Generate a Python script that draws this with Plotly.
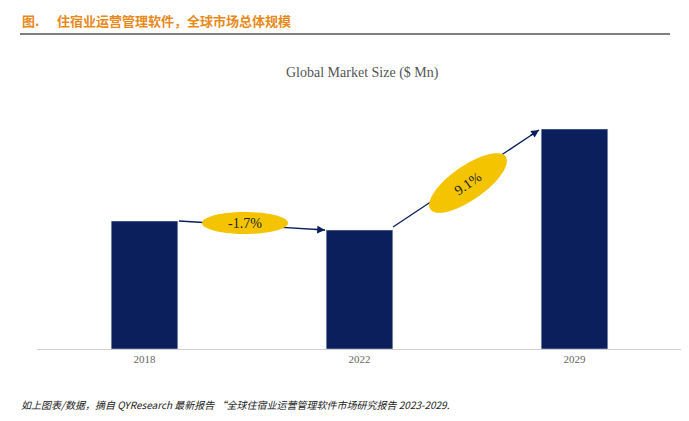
import plotly.graph_objects as go
import numpy as np

years = ["2018", "2022", "2029"]
values = [128, 119, 220]
cagr_labels = ["-1.7%", "9.1%"]

OFF = 8  # page body margin
W, H = 689, 421
ml, mt = 37 - OFF, 99 - OFF
pw = 645
ph = 250
mr = W - ml - pw
mb = H - mt - ph
ymax = 250

def fy(py):  # page y -> paper fraction
    return (H - mb - (py - OFF)) / ph

def fx(px):
    return (px - OFF - ml) / pw

def px2data(px, py):
    return fx(px) * 3 - 0.5, fy(py) * ymax

fig = go.Figure(go.Bar(x=[0, 1, 2], y=values, width=0.31, marker_color="#0A1F5C",
                       hoverinfo="skip"))

def ellipse_path(cx, cy, a, b, ang):
    t = np.linspace(0, 2*np.pi, 60)
    th = np.radians(ang)
    xs = cx + a*np.cos(t)*np.cos(th) - b*np.sin(t)*np.sin(th)
    ys = cy + a*np.cos(t)*np.sin(th) + b*np.sin(t)*np.cos(th)
    pts = [px2data(x, y) for x, y in zip(xs, ys)]
    return "M " + " L ".join(f"{x:.4f},{y:.3f}" for x, y in pts) + " Z"

def seg(p0, p1):
    x0, y0 = px2data(*p0); x1, y1 = px2data(*p1)
    return dict(type="line", xref="x", yref="y", x0=x0, y0=y0, x1=x1, y1=y1,
                line=dict(color="#0A1F5C", width=1.3), layer="above")

A1 = ((179, 221), (325, 230))
A2 = ((393, 227), (539, 130))
shapes = [
    dict(type="line", xref="paper", yref="paper", x0=fx(20), x1=fx(670),
         y0=fy(34), y1=fy(34), line=dict(color="black", width=1)),
    seg(*A1), seg(*A2),
    dict(type="path", xref="x", yref="y", path=ellipse_path(245, 223, 43, 11, 0),
         fillcolor="#F5C400", line=dict(width=0), layer="above"),
    dict(type="path", xref="x", yref="y", path=ellipse_path(468, 183, 46, 17, -35),
         fillcolor="#F5C400", line=dict(width=0), layer="above"),
]

def head(p0, p1):
    x1, y1 = px2data(*p1)
    # short tail along the same direction
    dx, dy = p1[0] - p0[0], p1[1] - p0[1]
    L = (dx*dx + dy*dy) ** 0.5
    t = (p1[0] - dx/L*12, p1[1] - dy/L*12)
    x0, y0 = px2data(*t)
    return dict(x=x1, y=y1, ax=x0, ay=y0, xref="x", yref="y", axref="x", ayref="y",
                showarrow=True, arrowhead=2, arrowsize=1.2, arrowwidth=1.3,
                arrowcolor="#0A1F5C", text="")

ex1, ey1 = px2data(245, 223)
ex2, ey2 = px2data(468, 183)
annotations = [
    head(*A1), head(*A2),
    dict(x=ex1, y=ey1, xref="x", yref="y", text=cagr_labels[0], showarrow=False,
         font=dict(family="Liberation Serif", size=14, color="#222")),
    dict(x=ex2, y=ey2, xref="x", yref="y", text=cagr_labels[1], showarrow=False,
         textangle=-35, font=dict(family="Liberation Serif", size=14, color="#222")),
    dict(x=fx(20), y=fy(21), xref="paper", yref="paper", xanchor="left", yanchor="middle",
         text="<b>图.      住宿业运营管理软件，全球市场总体规模</b>", showarrow=False,
         font=dict(family="Noto Sans CJK SC", size=13, color="#E8891A")),
    dict(x=fx(362), y=fy(73), xref="paper", yref="paper", yanchor="middle",
         text="Global Market Size ($ Mn)", showarrow=False,
         font=dict(family="Liberation Serif", size=14, color="#555")),
    dict(x=fx(19), y=fy(404), xref="paper", yref="paper", xanchor="left", yanchor="middle",
         text="<i>如上图表/数据，摘自 QYResearch 最新报告 \u201c全球住宿业运营管理软件市场研究报告 2023-2029.</i>",
         showarrow=False, font=dict(family="Noto Sans CJK SC", size=10, color="#222")),
]

fig.update_layout(
    width=W, height=H, margin=dict(l=ml, r=mr, t=mt, b=mb),
    plot_bgcolor="white", paper_bgcolor="white", showlegend=False,
    shapes=shapes, annotations=annotations,
    xaxis=dict(range=[-0.5, 2.5], tickvals=[0, 1, 2], ticktext=years, showgrid=False,
               showline=True, linecolor="#D0D0D0", ticks="",
               tickfont=dict(family="Liberation Serif", size=11, color="#666")),
    yaxis=dict(range=[0, ymax], visible=False),
)
fig.write_html("out.html")
